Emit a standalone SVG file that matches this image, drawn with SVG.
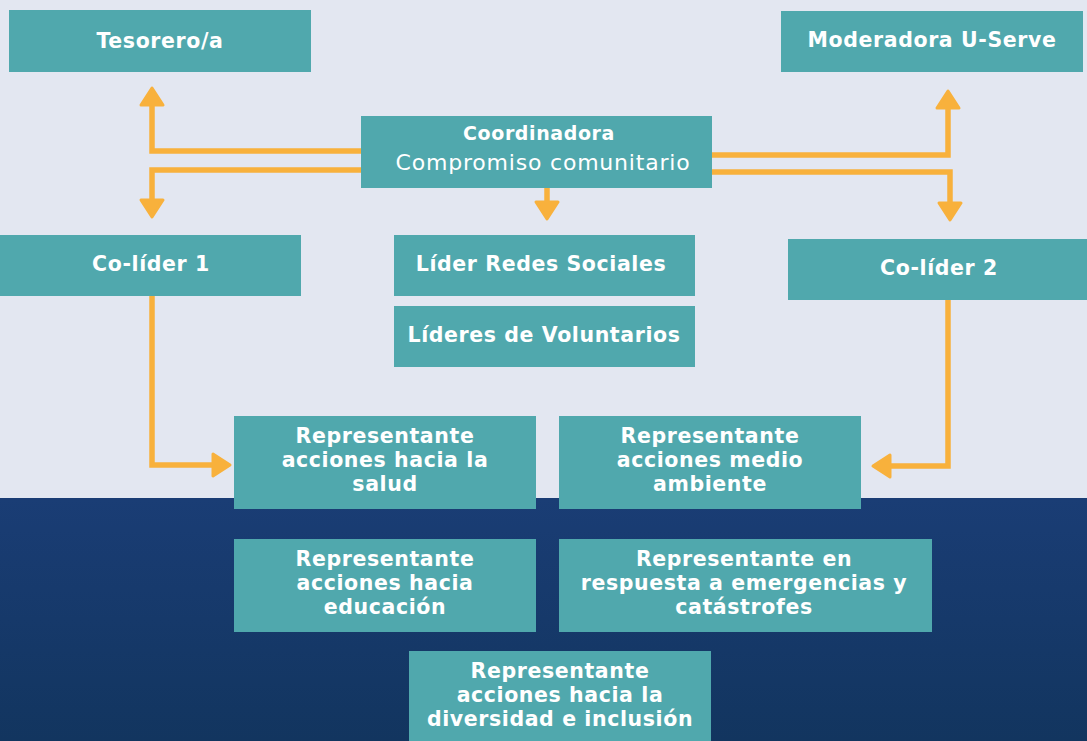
<svg xmlns="http://www.w3.org/2000/svg" width="1087" height="741" viewBox="0 0 1087 741">
<defs>
<linearGradient id="navy" x1="0" y1="0" x2="0" y2="1">
<stop offset="0" stop-color="#1A3D75"/>
<stop offset="1" stop-color="#12355F"/>
</linearGradient>
<marker id="ah" markerUnits="userSpaceOnUse" viewBox="0 0 22 28" markerWidth="22" markerHeight="28" refX="2" refY="14" orient="auto">
<path d="M2,3 L19,14 L2,25 Z" fill="#F8B13C" stroke="#F8B13C" stroke-width="3" stroke-linejoin="round"/>
</marker>
<style>
.box{fill:#50A8AD}
.t{font-family:"DejaVu Sans","Open Sans",sans-serif;font-weight:700;fill:#fff;text-anchor:middle;font-size:20.5px;letter-spacing:0.6px}
.r{font-family:"DejaVu Sans","Open Sans",sans-serif;font-weight:400;fill:#fff;text-anchor:middle;font-size:22px;letter-spacing:0.8px}
.c{fill:none;stroke:#F8B13C;stroke-width:5.5;stroke-linejoin:miter}
</style>
</defs>
<rect x="0" y="0" width="1087" height="498" fill="#E3E7F1"/>
<rect x="0" y="498" width="1087" height="243" fill="url(#navy)"/>

<g id="connectors">
<path class="c" d="M361,151 H152 V105" marker-end="url(#ah)"/>
<path class="c" d="M361,170 H152 V200" marker-end="url(#ah)"/>
<path class="c" d="M712,155 H948 V108" marker-end="url(#ah)"/>
<path class="c" d="M712,172 H950 V203" marker-end="url(#ah)"/>
<path class="c" d="M547,188 V202" marker-end="url(#ah)"/>
<path class="c" d="M152,296 V465 H213" marker-end="url(#ah)"/>
<path class="c" d="M948,300 V466 H890" marker-end="url(#ah)"/>
</g>

<g id="tesorero">
<rect class="box" x="9" y="10" width="302" height="62"/>
<text class="t" x="160" y="48">Tesorero/a</text>
</g>
<g id="moderadora">
<rect class="box" x="781" y="11" width="302" height="61"/>
<text class="t" x="932" y="47">Moderadora U-Serve</text>
</g>
<g id="coordinadora">
<rect class="box" x="361" y="116" width="351" height="72"/>
<text class="t" x="539" y="140" style="font-size:19px;letter-spacing:0.6px">Coordinadora</text>
<text class="r" x="543" y="170">Compromiso comunitario</text>
</g>
<g id="colider1">
<rect class="box" x="0" y="235" width="301" height="61"/>
<text class="t" x="151" y="271">Co-líder 1</text>
</g>
<g id="redes">
<rect class="box" x="394" y="235" width="301" height="61"/>
<text class="t" x="541" y="271">Líder Redes Sociales</text>
</g>
<g id="voluntarios">
<rect class="box" x="394" y="306" width="301" height="61"/>
<text class="t" x="544" y="342">Líderes de Voluntarios</text>
</g>
<g id="colider2">
<rect class="box" x="788" y="239" width="299" height="61"/>
<text class="t" x="939" y="275">Co-líder 2</text>
</g>
<g id="salud">
<rect class="box" x="234" y="416" width="302" height="93"/>
<text class="t"><tspan x="385" y="443">Representante</tspan><tspan x="385" y="467">acciones hacia la</tspan><tspan x="385" y="491">salud</tspan></text>
</g>
<g id="ambiente">
<rect class="box" x="559" y="416" width="302" height="93"/>
<text class="t"><tspan x="710" y="443">Representante</tspan><tspan x="710" y="467">acciones medio</tspan><tspan x="710" y="491">ambiente</tspan></text>
</g>
<g id="educacion">
<rect class="box" x="234" y="539" width="302" height="93"/>
<text class="t"><tspan x="385" y="566">Representante</tspan><tspan x="385" y="590">acciones hacia</tspan><tspan x="385" y="614">educación</tspan></text>
</g>
<g id="emergencias">
<rect class="box" x="559" y="539" width="373" height="93"/>
<text class="t"><tspan x="744" y="566">Representante en</tspan><tspan x="744" y="590">respuesta a emergencias y</tspan><tspan x="744" y="614">catástrofes</tspan></text>
</g>
<g id="diversidad">
<rect class="box" x="409" y="651" width="302" height="90"/>
<text class="t"><tspan x="560" y="678">Representante</tspan><tspan x="560" y="702">acciones hacia la</tspan><tspan x="560" y="726">diversidad e inclusión</tspan></text>
</g>
</svg>
